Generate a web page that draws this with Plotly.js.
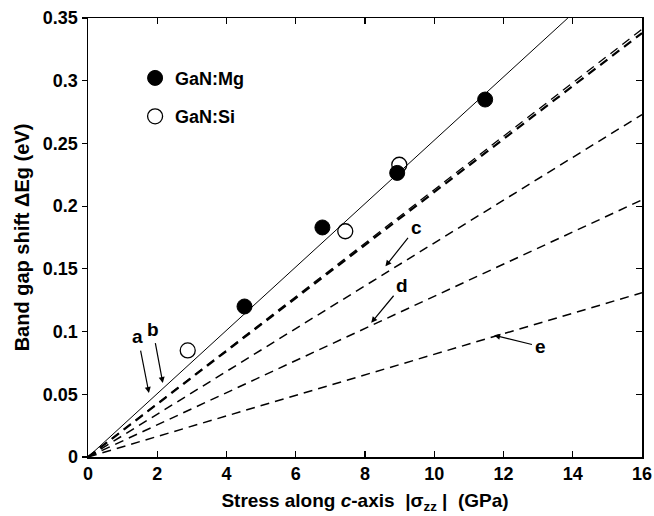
<!DOCTYPE html>
<html>
<head>
<meta charset="utf-8">
<script src="https://cdn.plot.ly/plotly-3.0.1.min.js"></script>
<style>html,body{margin:0;padding:0;background:#fff;}#chart{width:654px;height:516px;}</style>
</head>
<body>
<div id="chart"></div>
<script>
// Data
const mgX = [4.52, 6.77, 8.93, 11.47];
const mgY = [0.120, 0.183, 0.2265, 0.285];
const siX = [2.88, 7.43, 8.99];
const siY = [0.085, 0.180, 0.233];
// Model lines (endpoints)
const solidX = [0, 13.86];
const solidY = [0, 0.35];
const lineX = [0, 16];
const lineA = [0, 0.341];
const lineB = [0, 0.338];
const lineC = [0, 0.273];
const lineD = [0, 0.205];
const lineE = [0, 0.131];
const labels = ['a', 'b', 'c', 'd', 'e'];
const tipX = [1.76, 2.16, 8.59, 8.18, 11.73];
const tipY = [0.051, 0.059, 0.152, 0.107, 0.097];
const txtX = [1.44, 1.87, 9.48, 9.08, 13.08];
const txtY = [0.096, 0.102, 0.183, 0.137, 0.088];
const yTicks = [0, 0.05, 0.1, 0.15, 0.2, 0.25, 0.3, 0.35];
const yTickText = ['0', '0.05', '0.1', '0.15', '0.2', '0.25', '0.3', '0.35'];
const xTicks = [0, 2, 4, 6, 8, 10, 12, 14, 16];

const F = 'Arial, "Liberation Sans", sans-serif';
const dash = '9px,6px';
const traces = [
  {x: solidX, y: solidY, mode: 'lines', line: {color: '#000', width: 1}, showlegend: false, hoverinfo: 'skip'},
  {x: lineX, y: lineA, mode: 'lines', line: {color: '#000', width: 1.3, dash: dash}, showlegend: false},
  {x: lineX, y: lineB, mode: 'lines', line: {color: '#000', width: 2.2, dash: dash}, showlegend: false},
  {x: lineX, y: lineC, mode: 'lines', line: {color: '#000', width: 1.5, dash: dash}, showlegend: false},
  {x: lineX, y: lineD, mode: 'lines', line: {color: '#000', width: 1.5, dash: dash}, showlegend: false},
  {x: lineX, y: lineE, mode: 'lines', line: {color: '#000', width: 1.5, dash: dash}, showlegend: false},
  {x: mgX, y: mgY, mode: 'markers', name: 'GaN:Mg', legendgroup: 'g1', marker: {symbol: 'circle', size: 15, color: '#000', line: {color: '#000', width: 1}}},
  {x: siX, y: siY, mode: 'markers', name: 'GaN:Si', legendgroup: 'g2', marker: {symbol: 'circle-open', size: 15, color: '#000', line: {color: '#000', width: 1.3}}},
  {x: [0], y: [0], mode: 'markers', marker: {opacity: 0}, yaxis: 'y2', showlegend: false, hoverinfo: 'skip'}
];

const annotations = labels.map((t, i) => ({
  x: tipX[i], y: tipY[i], ax: txtX[i], ay: txtY[i], axref: 'x', ayref: 'y', xref: 'x', yref: 'y',
  text: '<b>' + t + '</b>', showarrow: true, arrowhead: 2, arrowsize: 1, arrowwidth: 1.2, arrowcolor: '#000',
  standoff: 0, startstandoff: 2, font: {family: F, size: 19, color: '#000'}
}));

const layout = {
  width: 654, height: 516,
  margin: {l: 88, r: 12, t: 18, b: 59},
  paper_bgcolor: '#fff', plot_bgcolor: '#fff',
  showlegend: true,
  legend: {x: 0.085, y: 0.905, xanchor: 'left', yanchor: 'top', bgcolor: 'rgba(0,0,0,0)', borderwidth: 0,
    font: {family: F, size: 18, color: '#000', weight: 'bold'}, tracegroupgap: 12, itemwidth: 30},
  xaxis: {range: [0, 16], tickvals: xTicks, ticks: 'inside', ticklen: 6, tickwidth: 1.2, tickcolor: '#000',
    showline: true, linecolor: '#000', linewidth: 1.5, mirror: 'ticks', showgrid: false, zeroline: false,
    tickfont: {family: F, size: 18, color: '#000', weight: 'bold'},
    title: {text: '<b>Stress along <i>c</i>-axis  |σ<sub>zz</sub> |  (GPa)</b>', font: {family: F, size: 19, color: '#000'}, standoff: 10}},
  yaxis: {range: [0, 0.35], tickvals: yTicks, ticktext: yTickText, ticks: 'outside', ticklen: 5, tickwidth: 1.2, tickcolor: '#000',
    showline: true, linecolor: '#000', linewidth: 1.5, mirror: true, showgrid: false, zeroline: false,
    tickfont: {family: F, size: 18, color: '#000', weight: 'bold'},
    title: {text: '<b>Band gap shift ΔEg (eV)</b>', font: {family: F, size: 20, color: '#000'}, standoff: 8}},
  yaxis2: {range: [0, 0.35], overlaying: 'y', side: 'right', tickvals: yTicks, showticklabels: false,
    ticks: 'inside', ticklen: 6, tickwidth: 1.2, tickcolor: '#000', showgrid: false, zeroline: false, showline: false},
  annotations: annotations
};

Plotly.newPlot('chart', traces, layout, {staticPlot: true, displayModeBar: false});
</script>
</body>
</html>
